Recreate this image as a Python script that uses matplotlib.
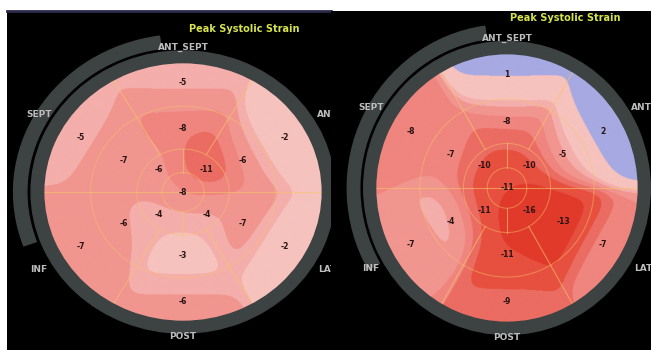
import numpy as np
import matplotlib.pyplot as plt
from matplotlib.patches import Wedge, Circle
from matplotlib.colors import ListedColormap, BoundaryNorm

# 17-segment bull's-eye: apex, 4 apical, 6 mid, 6 basal segments
apical_angles = [45, 135, 225, 315]
ring_angles = [90, 30, 330, 270, 210, 150]
wall_names = ['ANT_SEPT', 'ANT', 'LAT', 'POST', 'INF', 'SEPT']

left_apex = -8
left_apical = [-11, -6, -4, -4]
left_mid = [-8, -6, -7, -3, -6, -7]
left_basal = [-5, -2, -2, -6, -7, -5]

right_apex = -11
right_apical = [-10, -10, -11, -16]
right_mid = [-8, -5, -13, -11, -4, -7]
right_basal = [1, 2, -7, -9, -7, -8]

title = 'Peak Systolic Strain'

# strain colour scale
levels = [-40, -11.5, -9.5, -8.2, -7, -5.5, -4.2, 0, 40]
colors = ['#e13a2b', '#e7503f', '#eb6c62', '#ef857e', '#f1958f',
          '#f4aeab', '#f6c2bd', '#a7a9e2']
cmap = ListedColormap(colors)
norm = BoundaryNorm(levels, cmap.N)

RING_R = [0.24, 0.49, 0.84]
SIGMA = 0.165


def seg_points(apex, apical, mid, basal):
    pts = [(0.0, 0.0)]
    vals = [apex]
    for r, angs, vs in [(RING_R[0], apical_angles, apical),
                        (RING_R[1], ring_angles, mid),
                        (RING_R[2], ring_angles, basal)]:
        for a, v in zip(angs, vs):
            t = np.deg2rad(a)
            pts.append((r * np.cos(t), r * np.sin(t)))
            vals.append(v)
    return np.array(pts), np.array(vals, dtype=float)


def draw_panel(ax, apex, apical, mid, basal, arc_end, title_xy):
    ax.set_facecolor('black')
    for s in ax.spines.values():
        s.set_visible(False)
    ax.set_xticks([])
    ax.set_yticks([])

    # smooth strain map from the segment values
    pts, vals = seg_points(apex, apical, mid, basal)
    g = np.linspace(-1, 1, 500)
    X, Y = np.meshgrid(g, g)
    d2 = (X[..., None] - pts[:, 0]) ** 2 + (Y[..., None] - pts[:, 1]) ** 2
    w = np.exp(-(d2 - d2.min(-1, keepdims=True)) / (2 * SIGMA ** 2))
    Z = (w * vals).sum(-1) / w.sum(-1)
    im = ax.imshow(Z, cmap=cmap, norm=norm, extent=(-1, 1, -1, 1),
                   origin='lower', aspect='auto', zorder=1)
    im.set_clip_path(Circle((0, 0), 1, transform=ax.transData))

    # segment grid
    gc = dict(color='#f6c46a', lw=0.8, alpha=0.6, zorder=2)
    ax.plot([-1, 1], [0, 0], **gc)
    for a in [60, 120, 240, 300]:
        t = np.deg2rad(a)
        ax.plot([0.33 * np.cos(t), np.cos(t)], [0.33 * np.sin(t), np.sin(t)], **gc)
    ax.plot([0, 0], [0.15, 0.33], **gc)
    ax.plot([0, 0], [-0.15, -0.33], **gc)
    for rr in [0.15, 0.33, 0.66]:
        ax.add_patch(Circle((0, 0), rr, fill=False, ec='#f6c46a', lw=0.8,
                            alpha=0.45, zorder=2))

    # outer rings
    ax.add_patch(Wedge((0, 0), 1.085, 0, 360, width=0.09, color='#3d4242', zorder=3))
    ax.add_patch(Wedge((0, 0), 1.21, 98, arc_end, width=0.095, color='#3d4242', zorder=3))

    # segment values
    for (x, y), v in zip(pts, vals):
        ax.text(x, y, f'{int(v)}', ha='center', va='center', fontsize=5.5,
                fontweight='bold', color='#2a1414', zorder=4)

    # wall labels
    for name, a in zip(wall_names, ring_angles):
        t = np.deg2rad(a)
        rad = 1.19 if a not in (90, 270) else 1.11
        ax.text(rad * np.cos(t), rad * np.sin(t), name, ha='center', va='center',
                fontsize=6.5, fontweight='bold', color='#bdbdbd', zorder=4)

    ax.text(title_xy[0], title_xy[1], title, ha='center', va='center',
            fontsize=7, fontweight='bold', color='#d6e34e')


fig = plt.figure(figsize=(6.51, 3.5), dpi=100)
fig.patch.set_facecolor('white')

ax1 = fig.add_axes([7 / 651, 0, 324 / 651, 339 / 350])
ax1.set_xlim(-1.257, 1.057)
ax1.set_ylim(-1.215, 1.392)
draw_panel(ax1, left_apex, left_apical, left_mid, left_basal, 200, (0.44, 1.255))
ax1.spines['top'].set_visible(True)
ax1.spines['top'].set_color('#2a2a4a')
ax1.spines['top'].set_linewidth(2)

ax2 = fig.add_axes([331 / 651, 0, 320 / 651, 339 / 350])
ax2.set_xlim(-1.333, 1.091)
ax2.set_ylim(-1.2, 1.311)
draw_panel(ax2, right_apex, right_apical, right_mid, right_basal, 210, (0.44, 1.26))
# keep the clipped ANT label inside the right edge
ax2.texts[-6].set_x(1.02)

fig.savefig('out.png', dpi=100, facecolor='white')
